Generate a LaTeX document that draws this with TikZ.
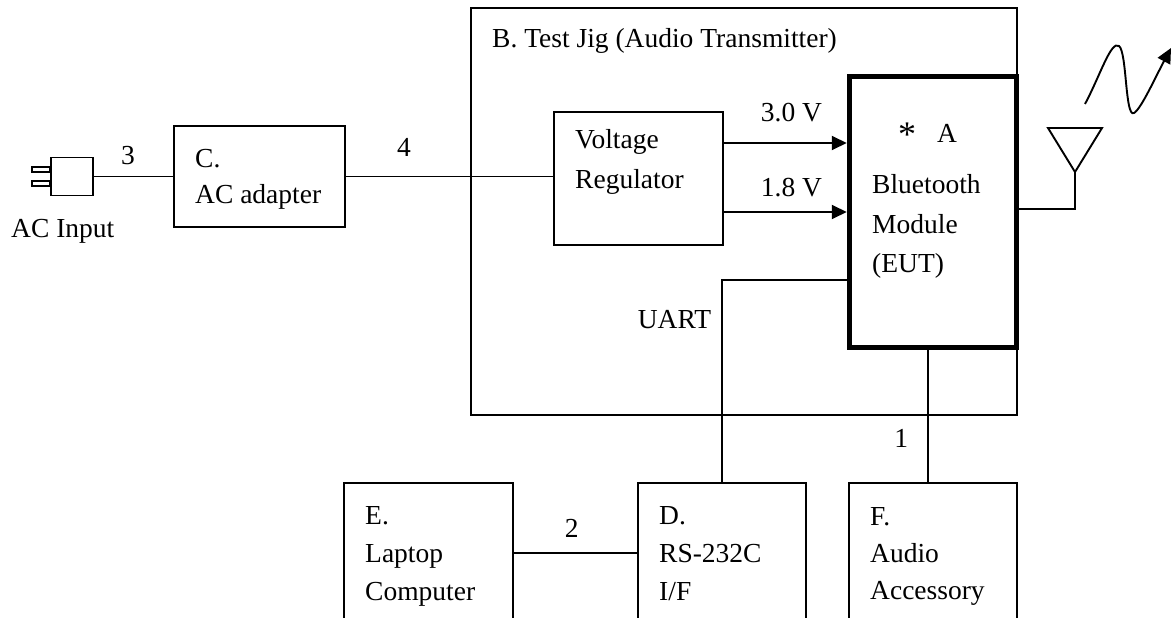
\documentclass[tikz,border=0pt]{standalone}
\usepackage{fontspec}
\setmainfont{Liberation Serif}
\usetikzlibrary{arrows.meta}

\begin{document}
\begin{tikzpicture}
[x=1pt,y=-1pt,
  boxdecorate/.style={shape=rectangle,draw,line width=1.9pt,inner sep=0pt},%
  eutdecorate/.style={shape=rectangle,draw,line width=5.5pt,inner sep=0pt},%
  linedecorate/.style={-,line width=1.9pt},%
  arrowdecorate/.style={-{Triangle[length=15pt,width=14pt]},line width=1.9pt},%
  textdecorate/.style={anchor=base west,inner sep=0pt},%
  labeldecorate/.style={inner sep=0pt},%
  every node/.append style={font=\fontsize{27.5}{39}\selectfont}]
\useasboundingbox (0,0) rectangle (1172,618);
\clip (0,0) rectangle (1172,618);
%% boxes
\foreach \nodename/\x/\y/\w/\h in {
  adapter/259.5/176.5/171/101, jig/744/211.5/546/407,
  regulator/638.5/178.5/169/133,
  laptop/428.5/553/169/140, rs232/722/553/168/140, audio/933/553/168/140}
{
  \node (\nodename) at (\x,\y) [boxdecorate,minimum width=\w pt,minimum height=\h pt] {};
}
\node (module) at (933,212) [eutdecorate,minimum width=167pt,minimum height=271pt] {};
%% plug and antenna
\node (plug) at (72,176.5) [boxdecorate,minimum width=42pt,minimum height=38pt] {};
\draw[linedecorate] (plug.west) ++(0,-4.5) rectangle ++(-18,-5);
\draw[linedecorate] (plug.west) ++(0,4.5) rectangle ++(-18,5);
\coordinate (antenna) at (1075,172);
\draw[linedecorate,line join=miter] (antenna) -- ++(-27,-44) -- ++(54,0) -- cycle;
\coordinate (wavestart) at (1085,104);
\coordinate (wavetip) at (1171,48);
\draw[arrowdecorate] (wavestart) .. controls (1100,76) and (1111,40) .. (1119,46)
  .. controls (1127,52) and (1125,118) .. (1134,113)
  .. controls (1141,109) and (1155,78) .. (wavetip);
%% texts
\foreach \nodename/\x/\y/\txt in {
  acinput/11/237/{AC Input},
  adaptertag/195/167/{C.}, adaptername/195/203/{AC adapter},
  jigname/492/48/{B. Test Jig (Audio Transmitter)},
  regulatora/575/148/{Voltage}, regulatorb/575/188/{Regulator},
  moduletag/937/142/{A},
  modulea/872/193/{Bluetooth}, moduleb/872/233/{Module}, modulec/872/272/{(EUT)},
  laptoptag/365/524/{E.}, laptopa/365/562/{Laptop}, laptopb/365/600/{Computer},
  rstag/659/524/{D.}, rsa/659/562/{RS-232C}, rsb/659/600/{I/F},
  audiotag/870/525/{F.}, audioa/870/562/{Audio}, audiob/870/599/{Accessory}}
{
  \node (\nodename) at (\x,\y) [textdecorate] {\txt};
}
\node (moduleast) at (898,146) [textdecorate,font=\fontsize{36}{39}\selectfont] {*};
%% connectors
\draw[linedecorate] (plug.east) -- node[labeldecorate,pos=0.43,above=11pt] {3} (plug.east -| adapter.west);
\draw[linedecorate] (adapter.east) -- node[labeldecorate,pos=0.28,above=19pt] {4} (adapter.east -| regulator.west);
\draw[arrowdecorate] ([yshift=35.5pt]regulator.east) -- node[labeldecorate,pos=0.55,above=20pt] {3.0 V}
  ([yshift=35.5pt]regulator.east -| module.west);
\draw[arrowdecorate] ([yshift=-33.5pt]regulator.east) -- node[labeldecorate,pos=0.55,above=14pt] {1.8 V}
  ([yshift=-33.5pt]regulator.east -| module.west);
\draw[linedecorate] ([yshift=-68pt]module.west) -| node[labeldecorate,pos=0.62,anchor=base east,xshift=-10pt] {UART} (rs232.north);
\draw[linedecorate] (laptop) -- node[labeldecorate,pos=0.47,above=15pt] {2} (rs232);
\draw[linedecorate] ([xshift=-5pt]module.south) -- node[labeldecorate,pos=0.67,left=19pt] {1} ([xshift=-5pt]audio.north);
\draw[linedecorate] (antenna) |- ([yshift=3pt]module.east);
\end{tikzpicture}
\end{document}
